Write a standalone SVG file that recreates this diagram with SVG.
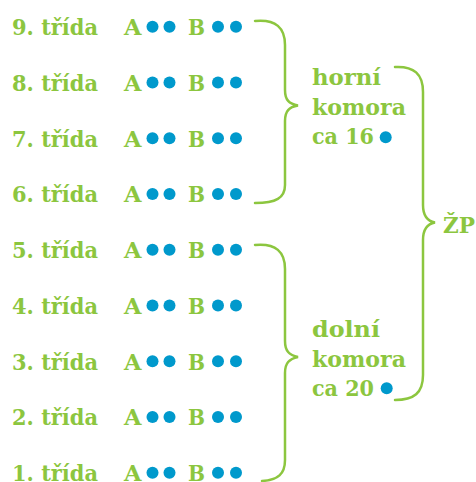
<svg xmlns="http://www.w3.org/2000/svg" width="476" height="482" viewBox="0 0 476 482">
<style>
.t{font-family:"DejaVu Serif","Liberation Serif",serif;font-weight:bold;font-size:23px;fill:#8cc63f}
.d{fill:#0099cc}
.br{fill:none;stroke:#8cc63f;stroke-width:2.5;stroke-linecap:round}
</style>
<defs>
<g id="row">
<text class="t" x="124" y="0" textLength="17.5" lengthAdjust="spacingAndGlyphs">A</text>
<circle class="d" cx="152.5" cy="-8.3" r="6"/>
<circle class="d" cx="169.5" cy="-8.3" r="6"/>
<text class="t" x="188" y="0" textLength="17" lengthAdjust="spacingAndGlyphs">B</text>
<circle class="d" cx="218" cy="-8.3" r="6"/>
<circle class="d" cx="236" cy="-8.3" r="6"/>
</g>
</defs>
<rect width="476" height="482" fill="#fff"/>
<g id="r9"><text class="t" x="12" y="35" textLength="86" lengthAdjust="spacingAndGlyphs">9. třída</text><use href="#row" y="35"/></g>
<g id="r8"><text class="t" x="12" y="90.75" textLength="86" lengthAdjust="spacingAndGlyphs">8. třída</text><use href="#row" y="90.75"/></g>
<g id="r7"><text class="t" x="12" y="146.5" textLength="86" lengthAdjust="spacingAndGlyphs">7. třída</text><use href="#row" y="146.5"/></g>
<g id="r6"><text class="t" x="12" y="202.25" textLength="86" lengthAdjust="spacingAndGlyphs">6. třída</text><use href="#row" y="202.25"/></g>
<g id="r5"><text class="t" x="12" y="258" textLength="86" lengthAdjust="spacingAndGlyphs">5. třída</text><use href="#row" y="258"/></g>
<g id="r4"><text class="t" x="12" y="313.75" textLength="86" lengthAdjust="spacingAndGlyphs">4. třída</text><use href="#row" y="313.75"/></g>
<g id="r3"><text class="t" x="12" y="369.5" textLength="86" lengthAdjust="spacingAndGlyphs">3. třída</text><use href="#row" y="369.5"/></g>
<g id="r2"><text class="t" x="12" y="425.25" textLength="86" lengthAdjust="spacingAndGlyphs">2. třída</text><use href="#row" y="425.25"/></g>
<g id="r1"><text class="t" x="12" y="481" textLength="86" lengthAdjust="spacingAndGlyphs">1. třída</text><use href="#row" y="481"/></g>
<g id="connectors">
<path class="br" d="M255,21 C276,19 285,28 285,45 L285,90 C285,100 289,104 298,105.5 C289,107 285,111 285,121 L285,185 C285,198 276,203 255,203"/>
<path class="br" d="M255,245 C276,243 285,252 285,269 L285,341 C285,351 289,355 298,357 C289,359 285,363 285,373 L285,460 C285,474 278,480 262,481"/>
<path class="br" d="M395,67 C414,66 423,74 423,92 L423,205 C423,216 427,221 435,222.5 C427,224 423,229 423,240 L423,375 C423,393 414,400 395,400"/>
</g>
<g id="horni">
<text class="t" x="312" y="85" textLength="69" lengthAdjust="spacingAndGlyphs">horní</text>
<text class="t" x="312" y="115" textLength="94" lengthAdjust="spacingAndGlyphs">komora</text>
<text class="t" x="312" y="143.5" textLength="62" lengthAdjust="spacingAndGlyphs">ca 16</text>
<circle class="d" cx="385.7" cy="137.3" r="6"/>
</g>
<g id="dolni">
<text class="t" x="312" y="337" textLength="68" lengthAdjust="spacingAndGlyphs">dolní</text>
<text class="t" x="312" y="367" textLength="94" lengthAdjust="spacingAndGlyphs">komora</text>
<text class="t" x="312" y="396" textLength="62" lengthAdjust="spacingAndGlyphs">ca 20</text>
<circle class="d" cx="386.7" cy="388.3" r="6"/>
</g>
<g id="zp"><text class="t" x="443" y="233" textLength="32" lengthAdjust="spacingAndGlyphs">ŽP</text></g>
</svg>
